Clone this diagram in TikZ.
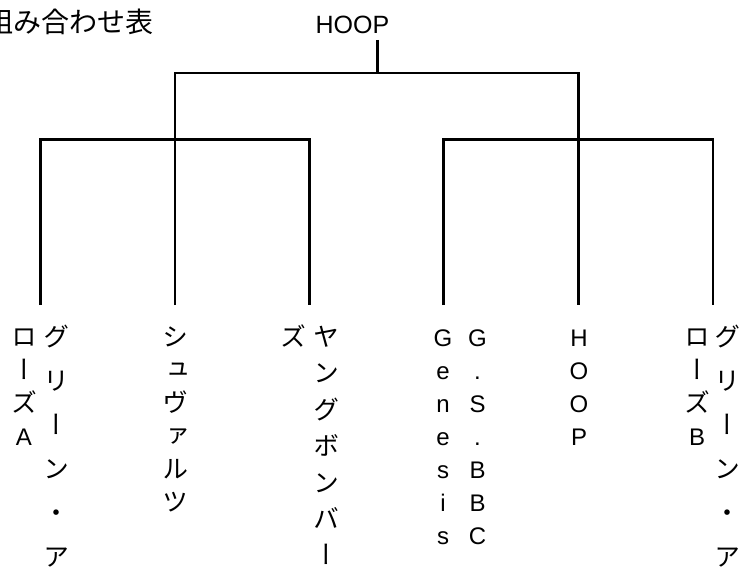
\documentclass[tikz,border=0pt]{standalone}
\usepackage{fontspec}
\setmainfont{Liberation Sans}
\newfontfamily\jp{Noto Sans CJK JP}
\newfontfamily\jpv[RawFeature=+vert]{Noto Sans CJK JP}
\newcommand\lat{\normalfont\fontsize{24}{24}\selectfont}
% one column of upright text, one character per line
\newcommand\tatecol[2]{%
  \vtop{\offinterlineskip
    \foreach \c in {#2}{%
      \hbox to 30pt{\hss\vrule width 0pt height \dimexpr#1pt*7/10\relax depth \dimexpr#1pt*3/10\relax\c\hss}}}}
\tikzset{
  bracket/.style={line width=2.8pt},
  tate/.style={anchor=base, inner sep=0pt, font=\fontsize{26}{26}\jpv},
  tatelat/.style={anchor=base, inner sep=0pt, font=\lat},
}

\begin{document}
\begin{tikzpicture}[x=1pt,y=-1pt]
    \useasboundingbox (0,0) rectangle (743,567);

    % Title and winner
    \node[anchor=base east, inner sep=0pt, font=\fontsize{28}{28}\jp] (title) at (153.5,33) {組み合わせ表};
    \node[anchor=base, inner sep=0pt, font=\fontsize{25}{25}\selectfont] (champ) at (352.5,34) {HOOP};

    % Foot of each team line
    \coordinate (f1) at (40.5,305);
    \coordinate (f2) at (175,305);
    \coordinate (f3) at (309.5,305);
    \coordinate (f4) at (443.5,305);
    \coordinate (f5) at (578.5,305);
    \coordinate (f6) at (713,305);
    \coordinate (semi) at (0,139.5);
    \coordinate (final) at (0,73);
    \coordinate (stem) at (377.5,40);

    % Bracket
    \draw[bracket] (f1) |- (f3 |- semi) -- (f3);
    \draw[bracket] (f4) |- (f6 |- semi) -- (f6);
    \draw[bracket] (f2) |- (f5 |- final) -- (f5);
    \draw[bracket] (stem) -- (stem |- final);

    % Team names, top to bottom
    \node[tate] (grA) at (56,346.5) {\tatecol{44}{グ,リ,ー,ン,・,ア}};
    \node[tate] (grA2) at (24,346.5) {\tatecol{33}{ロ,ー,ズ,\lat A}};
    \node[tate] (sch) at (175.5,346.5) {\tatecol{33}{シ,ュ,ヴ,ァ,ル,ツ}};
    \node[tate] (yb) at (326.5,346.5) {\tatecol{36.4}{ヤ,ン,グ,ボ,ン,バ,ー}};
    \node[tate] (yb2) at (293.5,346.5) {\tatecol{33}{ズ}};
    \node[tatelat] (gsb) at (477.5,346.5) {\tatecol{33}{G,.,S,.,B,B,C}};
    \node[tatelat] (gen) at (443,346.5) {\tatecol{33}{G,e,n,e,s,i,s}};
    \node[tatelat] (hoop) at (579,346.5) {\tatecol{33}{H,O,O,P}};
    \node[tate] (grB) at (727,346.5) {\tatecol{44}{グ,リ,ー,ン,・,ア}};
    \node[tate] (grB2) at (697,346.5) {\tatecol{33}{ロ,ー,ズ,\lat B}};
\end{tikzpicture}
\end{document}
